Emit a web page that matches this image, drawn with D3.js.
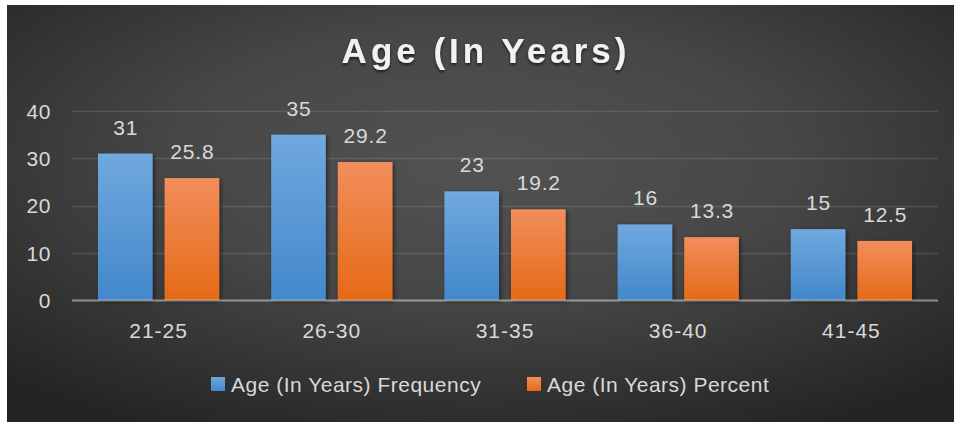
<!DOCTYPE html>
<html>
<head>
<meta charset="utf-8">
<script src="https://cdn.jsdelivr.net/npm/d3@7"></script>
<style>
  html, body { margin: 0; padding: 0; background: #ffffff; }
  svg { display: block; }
  text { font-family: "Liberation Sans", Arial, sans-serif; }
</style>
</head>
<body>
<svg id="chart" width="954" height="422"></svg>
<script>
// ---- data ----
const title = "Age (In Years)";
const categories = ["21-25", "26-30", "31-35", "36-40", "41-45"];
const seriesNames = ["Age (In Years) Frequency", "Age (In Years) Percent"];
const frequency = [31, 35, 23, 16, 15];
const percent = [25.8, 29.2, 19.2, 13.3, 12.5];
const percentLabels = ["25.8", "29.2", "19.2", "13.3", "12.5"];
const yTicks = [0, 10, 20, 30, 40];

const svg = d3.select("#chart");
const W = 954, H = 422;

// ---- defs ----
const defs = svg.append("defs");
const bg = defs.append("radialGradient").attr("id", "bgGrad")
  .attr("cx", "50%").attr("cy", "38%").attr("r", "72%");
bg.append("stop").attr("offset", "0").attr("stop-color", "#525252");
bg.append("stop").attr("offset", "0.45").attr("stop-color", "#474747");
bg.append("stop").attr("offset", "1").attr("stop-color", "#242424");

const gBlue = defs.append("linearGradient").attr("id", "gBlue")
  .attr("x1", 0).attr("y1", 0).attr("x2", 0).attr("y2", 1);
gBlue.append("stop").attr("offset", "0").attr("stop-color", "#70a8de");
gBlue.append("stop").attr("offset", "1").attr("stop-color", "#4388cb");
const gOrange = defs.append("linearGradient").attr("id", "gOrange")
  .attr("x1", 0).attr("y1", 0).attr("x2", 0).attr("y2", 1);
gOrange.append("stop").attr("offset", "0").attr("stop-color", "#f28e5c");
gOrange.append("stop").attr("offset", "1").attr("stop-color", "#e56a16");

const shadow = defs.append("filter").attr("id", "shadow")
  .attr("x", "-20%").attr("y", "-20%").attr("width", "140%").attr("height", "140%");
shadow.append("feDropShadow").attr("dx", 1.5).attr("dy", 1.5)
  .attr("stdDeviation", 2).attr("flood-color", "#000").attr("flood-opacity", 0.55);

const tshadow = defs.append("filter").attr("id", "tshadow")
  .attr("x", "-10%").attr("y", "-30%").attr("width", "120%").attr("height", "160%");
tshadow.append("feDropShadow").attr("dx", 0).attr("dy", 2)
  .attr("stdDeviation", 1.5).attr("flood-color", "#000").attr("flood-opacity", 0.6);

// ---- panel ----
svg.append("rect").attr("x", 0).attr("y", 0).attr("width", W).attr("height", H).attr("fill", "#ffffff");
svg.append("rect").attr("x", 7).attr("y", 5).attr("width", W - 7).attr("height", H - 5)
  .attr("fill", "url(#bgGrad)");

// ---- scales ----
const x0 = d3.scaleBand().domain(categories).range([72, 938]).padding(0);
const x1 = d3.scaleBand().domain(seriesNames)
  .range([x0.bandwidth() * 0.15, x0.bandwidth() * 0.85]).paddingInner(0.18);
const y = d3.scaleLinear().domain([0, 40]).range([300, 111]);

const colors = ["url(#gBlue)", "url(#gOrange)"];

// ---- gridlines ----
svg.append("g").selectAll("line").data(yTicks.filter(d => d > 0)).join("line")
  .attr("x1", 72).attr("x2", 938)
  .attr("y1", d => Math.round(y(d)) + 0.5).attr("y2", d => Math.round(y(d)) + 0.5)
  .attr("stroke", "#ffffff").attr("stroke-opacity", 0.12).attr("stroke-width", 1.5);

// ---- y axis labels ----
const yAxis = d3.axisLeft(y).tickValues(yTicks).tickSize(0).tickPadding(0);
const yg = svg.append("g").attr("transform", "translate(50,0)").call(yAxis);
yg.select(".domain").remove();
yg.selectAll("text")
  .attr("fill", "#d9d9d9").attr("font-size", 21).attr("letter-spacing", 0.6)
  .attr("dy", "0.35em").attr("x", 1).attr("font-family", '"Liberation Sans", Arial, sans-serif');

// ---- bars ----
const rows = categories.map((c, i) => ({ cat: c, vals: [
  { key: seriesNames[0], v: frequency[i], label: String(frequency[i]), s: 0 },
  { key: seriesNames[1], v: percent[i], label: percentLabels[i], s: 1 }
]}));

const groups = svg.append("g").selectAll("g").data(rows).join("g")
  .attr("transform", d => `translate(${x0(d.cat)},0)`);

groups.selectAll("rect").data(d => d.vals).join("rect")
  .attr("x", d => x1(d.key)).attr("width", x1.bandwidth())
  .attr("y", d => y(d.v)).attr("height", d => y(0) - y(d.v))
  .attr("fill", d => colors[d.s]).attr("filter", "url(#shadow)");

groups.selectAll("text.lbl").data(d => d.vals).join("text").attr("class", "lbl")
  .attr("x", d => x1(d.key) + x1.bandwidth() / 2 + 0.5)
  .attr("y", d => y(d.v) - 19)
  .attr("text-anchor", "middle").attr("fill", "#d9d9d9")
  .attr("font-size", 21).attr("letter-spacing", 0.8)
  .text(d => d.label);

// ---- zero axis line ----
svg.append("line").attr("x1", 72).attr("x2", 938).attr("y1", 300.5).attr("y2", 300.5)
  .attr("stroke", "#ffffff").attr("stroke-opacity", 0.45).attr("stroke-width", 2);

// ---- x axis labels ----
const xAxis = d3.axisBottom(x0).tickSize(0).tickPadding(0);
const xg = svg.append("g").attr("transform", "translate(0,337.5)").call(xAxis);
xg.select(".domain").remove();
xg.selectAll("text").attr("fill", "#d9d9d9").attr("font-size", 21)
  .attr("letter-spacing", 1).attr("dy", 0).attr("y", 0)
  .attr("font-family", '"Liberation Sans", Arial, sans-serif');

// ---- title ----
svg.append("text").attr("x", 486).attr("y", 63).attr("text-anchor", "middle")
  .attr("fill", "#f2f2f2").attr("font-size", 35).attr("font-weight", "bold")
  .attr("letter-spacing", 4).attr("filter", "url(#tshadow)")
  .text(title);

// ---- legend ----
const legendX = [211, 527];
const lg = svg.append("g").selectAll("g").data(seriesNames).join("g")
  .attr("transform", (d, i) => `translate(${legendX[i]},377)`);
lg.append("rect").attr("width", 14).attr("height", 14)
  .attr("fill", (d, i) => i === 0 ? "url(#gBlue)" : "url(#gOrange)");
lg.append("text").attr("x", 20).attr("y", 15).attr("fill", "#d9d9d9")
  .attr("font-size", 21).attr("letter-spacing", 0.5).text(d => d);
</script>
</body>
</html>
